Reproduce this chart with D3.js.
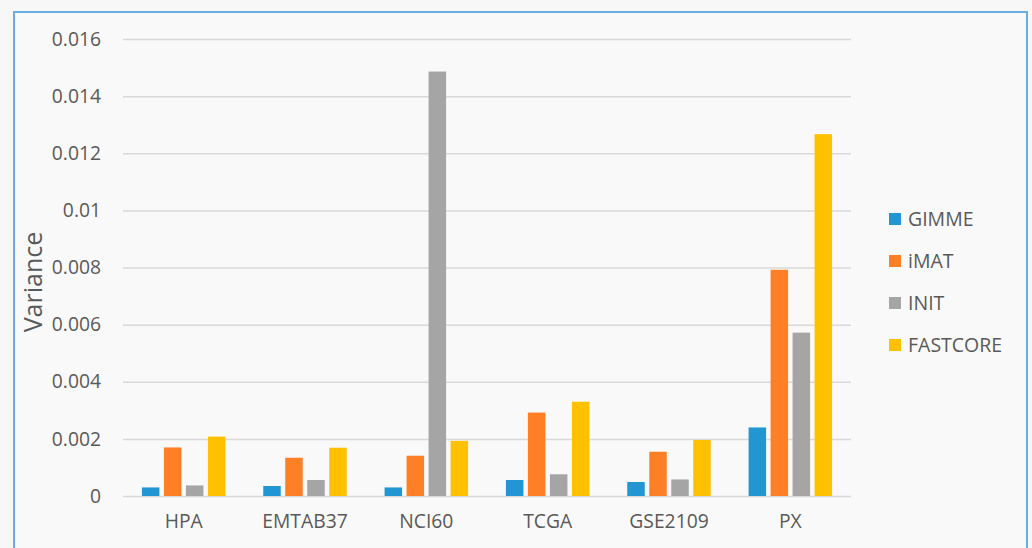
<!DOCTYPE html>
<html>
<head>
<meta charset="utf-8">
<script src="https://cdn.jsdelivr.net/npm/d3@7"></script>
<style>
  html, body { margin: 0; padding: 0; background: #f7f7f7; }
  svg { display: block; }
  text { font-family: "Open Sans", "Noto Sans", sans-serif; fill: #595959; }
</style>
</head>
<body>
<svg id="chart" width="1032" height="548"></svg>
<script>
// Datasets on the x axis
const categories = ["HPA", "EMTAB37", "NCI60", "TCGA", "GSE2109", "PX"];
// Methods (one bar per method in each group)
const methods = ["GIMME", "iMAT", "INIT", "FASTCORE"];
// Variance per method, in dataset order
const gimme    = [0.00030, 0.00035, 0.00030, 0.00056, 0.00049, 0.00240];
const imat     = [0.00170, 0.00134, 0.00141, 0.00292, 0.00155, 0.00792];
const init     = [0.00037, 0.00056, 0.01486, 0.00076, 0.00058, 0.00572];
const fastcore = [0.00208, 0.00169, 0.00193, 0.00330, 0.00196, 0.01267];
// Y-axis ticks
const yTicks = [0, 0.002, 0.004, 0.006, 0.008, 0.01, 0.012, 0.014, 0.016];
const yTickLabels = ["0", "0.002", "0.004", "0.006", "0.008", "0.01", "0.012", "0.014", "0.016"];

const seriesValues = [gimme, imat, init, fastcore];
const colors = ["#2196d3", "#ff7f27", "#a5a5a5", "#ffc000"];

const svg = d3.select("#chart");

// Frame around the chart area
svg.append("rect")
  .attr("x", 14).attr("y", 12)
  .attr("width", 1013).attr("height", 560)
  .attr("fill", "#f9f9f9")
  .attr("stroke", "#69aee0").attr("stroke-width", 2);

const plot = { left: 123, right: 851, top: 39, bottom: 496 };

const y = d3.scaleLinear().domain([0, 0.016]).range([plot.bottom, plot.top]);
const x0 = d3.scaleBand().domain(categories).range([plot.left, plot.right]).paddingInner(0).paddingOuter(0);

const barW = 17.5, barGap = 4.5;
const groupW = methods.length * barW + (methods.length - 1) * barGap;
const x1 = d3.scaleBand().domain(methods)
  .range([0, groupW])
  .paddingInner(barGap / (barW + barGap))
  .paddingOuter(0);

const labelFont = "'Open Sans', 'Noto Sans', sans-serif";

// Gridlines and y tick labels
const yAxis = d3.axisLeft(y)
  .tickValues(yTicks)
  .tickFormat((d, i) => yTickLabels[i])
  .tickSize(-(plot.right - plot.left))
  .tickPadding(22);

const gy = svg.append("g")
  .attr("transform", `translate(${plot.left},0)`)
  .call(yAxis);
gy.select(".domain").remove();
gy.selectAll(".tick line").attr("stroke", "#d9d9d9").attr("stroke-width", 1.5);
gy.selectAll(".tick text")
  .attr("font-size", 19.3)
  .attr("fill", "#595959")
  .style("font-family", labelFont);

// Bars
const groups = svg.append("g").selectAll("g")
  .data(categories)
  .join("g")
  .attr("transform", d => `translate(${x0(d) + (x0.bandwidth() - groupW) / 2},0)`);

groups.selectAll("rect")
  .data((c, ci) => methods.map((m, mi) => ({ m, mi, v: seriesValues[mi][ci] })))
  .join("rect")
  .attr("x", d => x1(d.m))
  .attr("width", x1.bandwidth())
  .attr("y", d => y(d.v))
  .attr("height", d => y(0) - y(d.v))
  .attr("fill", d => colors[d.mi]);

// X category labels
const xAxis = d3.axisBottom(x0).tickSize(0).tickPadding(18);
const gx = svg.append("g")
  .attr("transform", `translate(0,${plot.bottom})`)
  .call(xAxis);
gx.select(".domain").remove();
gx.selectAll(".tick text")
  .attr("font-size", 19.3)
  .attr("fill", "#595959")
  .style("font-family", labelFont);

// Y-axis title
svg.append("text")
  .attr("transform", "translate(42,282) rotate(-90)")
  .attr("text-anchor", "middle")
  .attr("font-size", 25)
  .text("Variance");

// Legend
const legend = svg.append("g");
const leg = legend.selectAll("g")
  .data(methods)
  .join("g")
  .attr("transform", (d, i) => `translate(889,${219 + i * 42})`);
leg.append("rect")
  .attr("x", 0).attr("y", -6)
  .attr("width", 12).attr("height", 12)
  .attr("fill", (d, i) => colors[i]);
leg.append("text")
  .attr("x", 19).attr("y", 0)
  .attr("dy", "0.35em")
  .attr("font-size", 19.5)
  .text(d => d);
</script>
</body>
</html>
